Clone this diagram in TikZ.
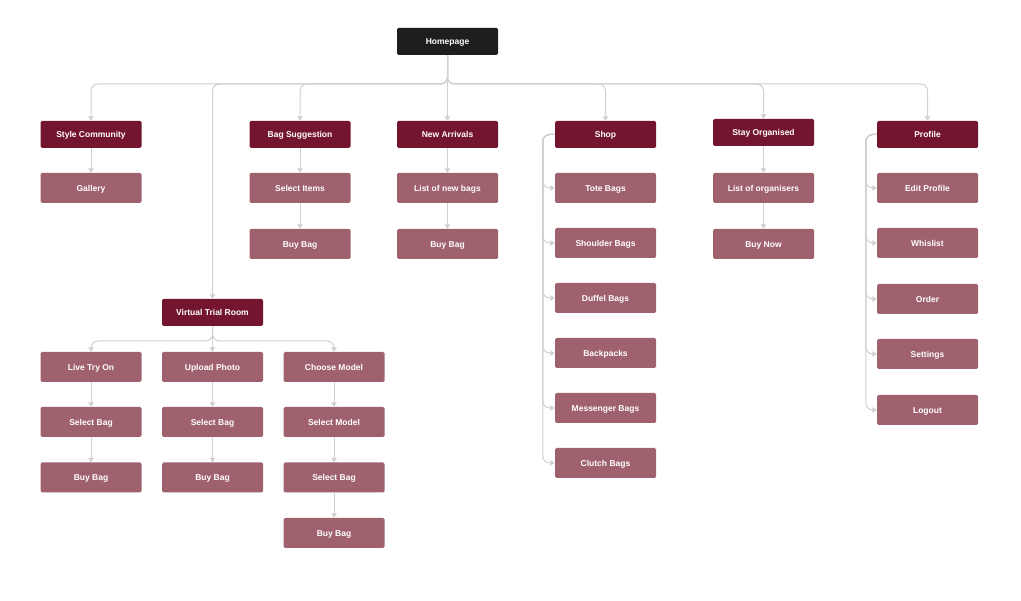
\documentclass[tikz,border=0pt]{standalone}
\usepackage{fontspec}
\setmainfont{Liberation Sans}
\usetikzlibrary{arrows.meta}
\definecolor{homec}{HTML}{1E1E1E}
\definecolor{lonec}{HTML}{741530}
\definecolor{ltwoc}{HTML}{A0616F}
\definecolor{linec}{HTML}{D0D0D0}
\begin{document}
\begin{tikzpicture}[x=1pt,y=-1pt,
  boxbase/.style={rectangle,rounded corners=1.5pt,inner sep=0pt,minimum width=101pt,text=white,text height=6.2pt,text depth=0pt,font=\fontsize{8.5}{10}\selectfont\bfseries},
  homebox/.style={boxbase,fill=homec,minimum height=27pt},
  lonebox/.style={boxbase,fill=lonec,minimum height=27pt},
  ltwobox/.style={boxbase,fill=ltwoc,minimum height=30pt},
  conn/.style={draw=linec,line width=1pt,rounded corners=7pt,-{Triangle[length=4.5pt,width=5.5pt]}},
  ]
\useasboundingbox (0,0) rectangle (1021,601);
\fill[white] (0,0) rectangle (1021,601);
% nodes
\node[homebox] (home) at (447.5,41.5) {Homepage};
\node[lonebox] (sc) at (91,134.5) {Style Community};
\node[lonebox] (bs) at (300,134.5) {Bag Suggestion};
\node[lonebox] (na) at (447.5,134.5) {New Arrivals};
\node[lonebox] (shop) at (605.5,134.5) {Shop};
\node[lonebox] (so) at (763.5,132.5) {Stay Organised};
\node[lonebox] (prof) at (927.5,134.5) {Profile};
\node[lonebox] (vtr) at (212.5,312.5) {Virtual Trial Room};
\node[ltwobox] (gal) at (91,188) {Gallery};
\node[ltwobox] (seli) at (300,188) {Select Items};
\node[ltwobox] (bsbuy) at (300,244) {Buy Bag};
\node[ltwobox] (lnb) at (447.5,188) {List of new bags};
\node[ltwobox] (nabuy) at (447.5,244) {Buy Bag};
\node[ltwobox] (tote) at (605.5,188) {Tote Bags};
\node[ltwobox] (shoul) at (605.5,243) {Shoulder Bags};
\node[ltwobox] (duff) at (605.5,298) {Duffel Bags};
\node[ltwobox] (back) at (605.5,353) {Backpacks};
\node[ltwobox] (mess) at (605.5,408) {Messenger Bags};
\node[ltwobox] (clut) at (605.5,463) {Clutch Bags};
\node[ltwobox] (lorg) at (763.5,188) {List of organisers};
\node[ltwobox] (buyn) at (763.5,244) {Buy Now};
\node[ltwobox] (edit) at (927.5,188) {Edit Profile};
\node[ltwobox] (wish) at (927.5,243) {Whislist};
\node[ltwobox] (ord) at (927.5,299) {Order};
\node[ltwobox] (sett) at (927.5,354) {Settings};
\node[ltwobox] (logo) at (927.5,410) {Logout};
\node[ltwobox] (live) at (91,367) {Live Try On};
\node[ltwobox] (upl) at (212.5,367) {Upload Photo};
\node[ltwobox] (chm) at (334,367) {Choose Model};
\node[ltwobox] (lsel) at (91,422) {Select Bag};
\node[ltwobox] (usel) at (212.5,422) {Select Bag};
\node[ltwobox] (smod) at (334,422) {Select Model};
\node[ltwobox] (lbuy) at (91,477.5) {Buy Bag};
\node[ltwobox] (ubuy) at (212.5,477.5) {Buy Bag};
\node[ltwobox] (csel) at (334,477.5) {Select Bag};
\node[ltwobox] (cbuy) at (334,533) {Buy Bag};
\coordinate (bus) at (447.5,84);
\coordinate (vbus) at (212.5,341);
% homepage bus
\foreach \t in {sc,bs,vtr,shop,so,prof}
  \draw[conn] (home.south) -- (bus) -| (\t.north);
\draw[conn] (home.south) -- (na.north);
% simple vertical chains
\draw[conn] (sc.south) -- (gal.north);
\draw[conn] (bs.south) -- (seli.north);
\draw[conn] (seli.south) -- (bsbuy.north);
\draw[conn] (na.south) -- (lnb.north);
\draw[conn] (lnb.south) -- (nabuy.north);
\draw[conn] (so.south) -- (lorg.north);
\draw[conn] (lorg.south) -- (buyn.north);
% virtual trial room
\draw[conn] (vtr.south) -- (vbus) -| (live.north);
\draw[conn] (vtr.south) -- (vbus) -| (chm.north);
\draw[conn] (vtr.south) -- (upl.north);
\draw[conn] (live.south) -- (lsel.north);
\draw[conn] (lsel.south) -- (lbuy.north);
\draw[conn] (upl.south) -- (usel.north);
\draw[conn] (usel.south) -- (ubuy.north);
\draw[conn] (chm.south) -- (smod.north);
\draw[conn] (smod.south) -- (csel.north);
\draw[conn] (csel.south) -- (cbuy.north);
% shop side bus
\foreach \t in {tote,shoul,duff,back,mess,clut}
  \draw[conn] (shop.west) -| ([xshift=-12pt]\t.west) -- (\t.west);
% profile side bus
\foreach \t in {edit,wish,ord,sett,logo}
  \draw[conn] (prof.west) -| ([xshift=-11pt]\t.west) -- (\t.west);
\end{tikzpicture}
\end{document}
